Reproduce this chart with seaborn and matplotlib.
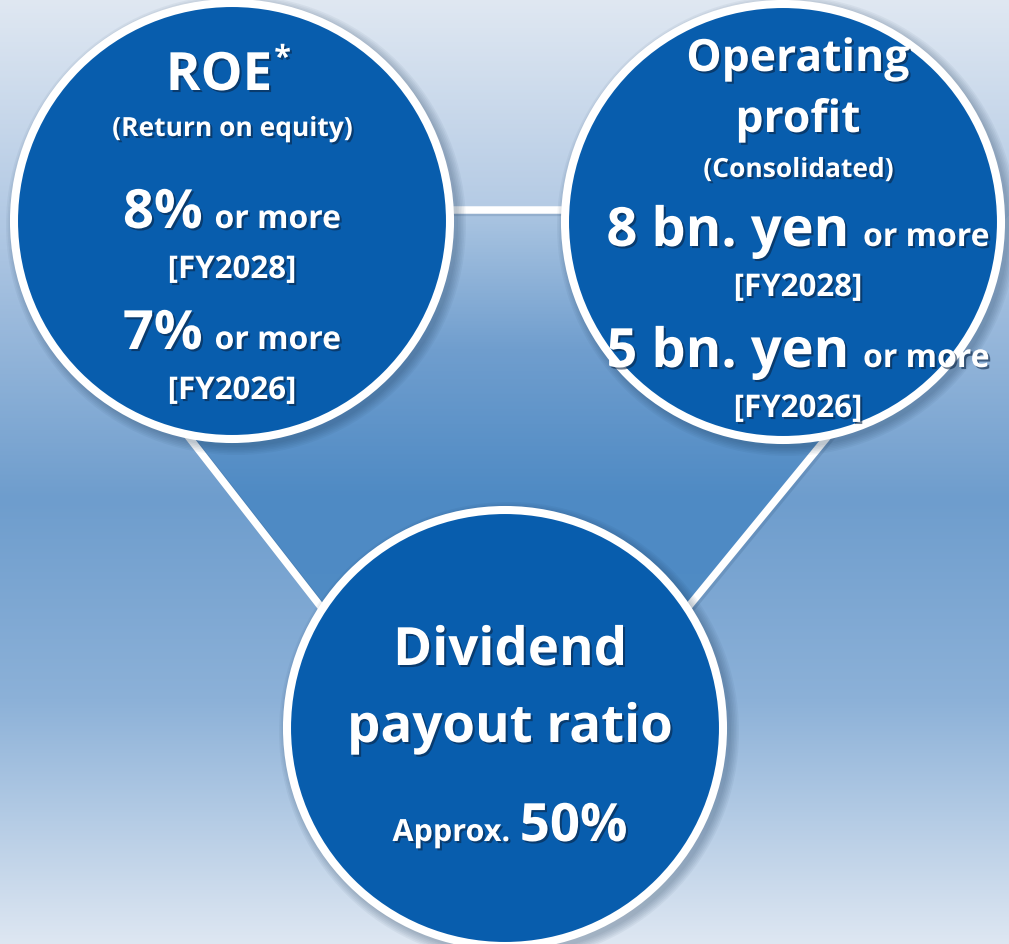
import numpy as np
import seaborn as sns
import matplotlib
matplotlib.use("Agg")
import matplotlib.pyplot as plt
import matplotlib.patheffects as pe
from matplotlib.patches import Circle
from matplotlib.path import Path

# ---- content ----
roe_title = "ROE"
roe_note = "(Return on equity)"
roe_targets = ["8%", "7%"]
profit_title = ["Operating", "profit"]
profit_note = "(Consolidated)"
profit_targets = ["8 bn. yen", "5 bn. yen"]
target_suffix = "or more"
target_years = ["[FY2028]", "[FY2026]"]
payout_title = ["Dividend", "payout ratio"]
payout_prefix = "Approx."
payout_target = "50%"

# ---- layout (pixels) ----
W, H = 1009, 945
centres = [(232, 222), (783, 223), (505, 729)]
radius = 218
triangle = [(12, 211), (1013, 211), (500, 838)]

outer_stops = [(0, (224, 232, 242)), (250, (172, 197, 226)), (500, (110, 157, 205)),
               (700, (140, 177, 216)), (945, (222, 231, 242))]
inner_stops = [(211, (172, 198, 226)), (350, (112, 158, 206)), (500, (78, 138, 196)),
               (650, (80, 140, 197)), (840, (100, 150, 202))]
blue = "#085dad"

sns.set_theme(style="white")
plt.rcParams['font.family'] = ['Open Sans', 'DejaVu Sans']

fig = plt.figure(figsize=(W / 100, H / 100), dpi=100)
ax = fig.add_axes([0, 0, 1, 1])


def ramp(stops, y):
    ys = [s[0] for s in stops]
    return np.stack([np.interp(y, ys, [s[1][i] for s in stops]) for i in range(3)], -1) / 255


yy = np.arange(H) + 0.5
xx = np.arange(W) + 0.5
gx, gy = np.meshgrid(xx, yy)
mask = Path(triangle).contains_points(np.c_[gx.ravel(), gy.ravel()]).reshape(H, W)
img = np.where(mask[..., None], ramp(inner_stops, yy)[:, None, :], ramp(outer_stops, yy)[:, None, :])
ax.imshow(img, extent=[0, W, H, 0], zorder=0, interpolation="bilinear", aspect="auto")


def along(p, q, t):
    return p[0] + (q[0] - p[0]) * t, p[1] + (q[1] - p[1]) * t


# connector lines, each starting and ending inside the circles
a, b, c = triangle
segments = [(along(a, b, 0.05), along(a, b, 0.95)),
            (along(a, c, 0.1), along(a, c, 0.95)),
            (along(b, c, 0.1), along(b, c, 0.95))]
for p, q in segments:
    ax.plot([p[0] + 2, q[0] + 2], [p[1] + 2, q[1] + 2], color="#1b3a5e", alpha=0.15, lw=6,
            zorder=1, solid_capstyle="butt")
    ax.plot([p[0], q[0]], [p[1], q[1]], color="white", lw=5.4, zorder=2, solid_capstyle="butt")

# circles with soft shadow
for cx, cy in centres:
    for k in range(6):
        ax.add_patch(Circle((cx + 4, cy + 4), radius + 4 + k * 1.6, color="#12304f",
                            alpha=0.05, lw=0, zorder=3))
    ax.add_patch(Circle((cx, cy), radius, facecolor=blue, edgecolor="white", lw=5.8, zorder=4))

ax.set_xlim(0, W)
ax.set_ylim(H, 0)
ax.axis("off")

shadow = [pe.withSimplePatchShadow(offset=(1.5, -1.5), shadow_rgbFace="#0b2545", alpha=0.6)]
renderer = fig.canvas.get_renderer()


def put(x, y, s, size, ha="center"):
    return ax.text(x, y, s, fontsize=size, fontweight="bold", color="white", ha=ha,
                   va="baseline", path_effects=shadow, zorder=6)


def mixed(x, y, parts, gap=12):
    # parts: (text, size) pieces that share one baseline, centred as a group on x
    texts = [put(0, y, s, fs, ha="left") for s, fs in parts]
    widths = [t.get_window_extent(renderer).width for t in texts]
    cur = x - (sum(widths) + gap * (len(parts) - 1)) / 2
    for t, w in zip(texts, widths):
        t.set_x(cur)
        cur += w + gap
    return texts


# ROE
t = put(0, 91, roe_title, 38, ha="left")
w = t.get_window_extent(renderer).width
t.set_x(226 - (w + 14) / 2)
ax.text(226 - (w + 14) / 2 + w + 2, 68, "*", fontsize=22, fontweight="bold", color="white",
        ha="left", va="baseline", path_effects=shadow, zorder=6)
put(232, 137, roe_note, 19)
for val, yr, yb in zip(roe_targets, target_years, [229, 350]):
    mixed(232, yb, [(val, 39), (target_suffix, 23)], gap=12)
    put(232, yb + 50, yr, 22.5)

# Operating profit
put(798, 72, profit_title[0], 32)
put(798, 133, profit_title[1], 32)
put(798, 178, profit_note, 19)
for val, yr, yb in zip(profit_targets, target_years, [247, 368]):
    mixed(798, yb, [(val, 39), (target_suffix, 23)], gap=14)
    put(798, yb + 50, yr, 22.5)

# Dividend payout ratio
put(510, 666, payout_title[0], 38)
put(510, 743, payout_title[1], 38)
mixed(510, 842, [(payout_prefix, 22), (payout_target, 38)], gap=10)

fig.savefig("out.png", dpi=100)
